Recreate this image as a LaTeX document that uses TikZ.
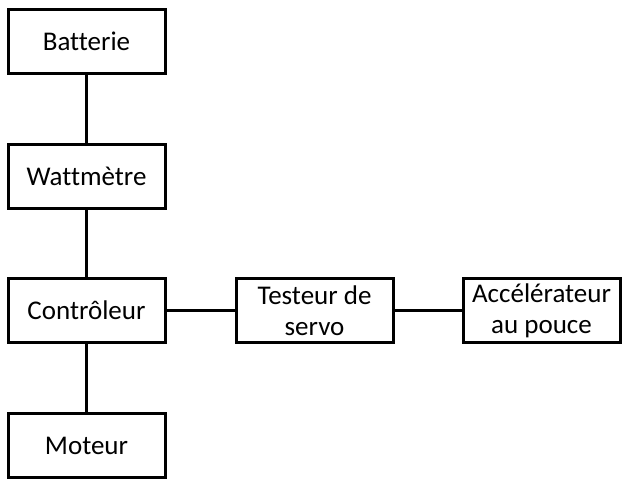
\documentclass[tikz,border=0pt]{standalone}
\usepackage{fontspec}
\setmainfont{Carlito}[Ligatures=NoCommon]
\begin{document}
\begin{tikzpicture}[x=1pt,y=-1pt,
  box/.style={draw=black,line width=3pt,fill=white,minimum width=157pt,minimum height=64pt,inner sep=0pt,align=center,font=\fontsize{27}{31}\selectfont},
  link/.style={line width=3pt}]
\useasboundingbox (0,0) rectangle (629,488);
\node[box] (bat) at (86.5,41.5) {Batterie};
\node[box] (watt) at (86.5,176) {Wattmètre};
\node[box] (ctrl) at (86.5,310.5) {Contrôleur};
\node[box] (mot) at (86.5,445.5) {Moteur};
\node[box] (test) at (314.5,310.5) {Testeur de\\servo};
\node[box] (acc) at (541.5,310.5) {Accélérateur\\au pouce};
\draw[link] (bat) -- (watt);
\draw[link] (watt) -- (ctrl);
\draw[link] (ctrl) -- (mot);
\draw[link] (ctrl) -- (test);
\draw[link] (test) -- (acc);
\end{tikzpicture}
\end{document}
